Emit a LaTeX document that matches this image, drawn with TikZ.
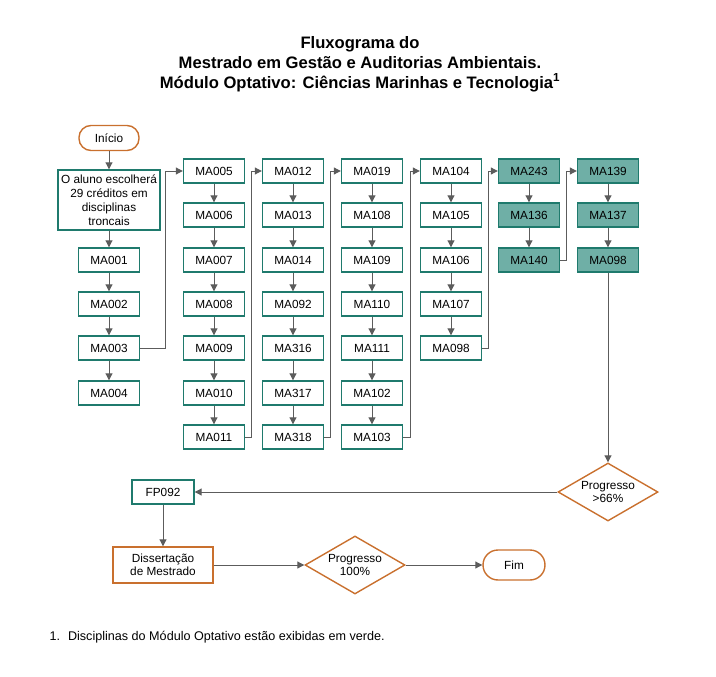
\documentclass[tikz,border=0pt]{standalone}
\usepackage{fontspec}
\setmainfont{Liberation Sans}
\usepackage{xcolor}
\usetikzlibrary{shapes.geometric,arrows.meta,positioning}

\definecolor{verde}{HTML}{1F7A6D}
\definecolor{verdeclaro}{HTML}{6FAFA6}
\definecolor{laranja}{HTML}{C9702E}
\definecolor{cinza}{HTML}{5C5C5C}

\begin{document}
\begin{tikzpicture}[
    x=1pt, y=-1pt,
    disc/.style={rectangle, draw=verde, line width=1.4pt, fill=white, minimum width=61pt, minimum height=24pt, inner sep=1pt, font=\fontsize{11.8}{13.5}\selectfont},
    optdisc/.style={disc, fill=verdeclaro},
    inicio/.style={rectangle, rounded corners=12pt, draw=laranja, line width=1.4pt, minimum width=60pt, minimum height=25pt, font=\fontsize{11.8}{13.5}\selectfont},
    decisao/.style={diamond, aspect=1.75, draw=laranja, line width=1.4pt, minimum width=100pt, minimum height=58pt, inner sep=0pt, align=center, font=\fontsize{11.8}{13.5}\selectfont},
    link/.style={draw=cinza, line width=1pt, -{Triangle[length=7pt,width=7pt]}}
]
    \useasboundingbox (0,0) rectangle (716,677);

    % Title
    \node[align=center, font=\bfseries\fontsize{16.6}{20}\selectfont] (titulo) at (360,64)
        {Fluxograma do\\Mestrado em Gestão e Auditorias Ambientais.\\Módulo Optativo: Ciências Marinhas e Tecnologia\textsuperscript{1}};

    % Column 1
    \node[inicio] (inicio) at (109,138) {Início};
    \node[disc, minimum width=102pt, minimum height=60pt, align=center, font=\fontsize{11.8}{14}\selectfont] (aluno) at (109,200)
        {O aluno escolherá\\29 créditos em\\disciplinas\\troncais};
    \node[disc] (ma001) at (109,260) {MA001};
    \node[disc] (ma002) at (109,304) {MA002};
    \node[disc] (ma003) at (109,348) {MA003};
    \node[disc] (ma004) at (109,393) {MA004};

    % Column 2
    \node[disc] (ma005) at (214,171) {MA005};
    \node[disc] (ma006) at (214,215) {MA006};
    \node[disc] (ma007) at (214,260) {MA007};
    \node[disc] (ma008) at (214,304) {MA008};
    \node[disc] (ma009) at (214,348) {MA009};
    \node[disc] (ma010) at (214,393) {MA010};
    \node[disc] (ma011) at (214,437) {MA011};

    % Column 3
    \node[disc] (ma012) at (293,171) {MA012};
    \node[disc] (ma013) at (293,215) {MA013};
    \node[disc] (ma014) at (293,260) {MA014};
    \node[disc] (ma092) at (293,304) {MA092};
    \node[disc] (ma316) at (293,348) {MA316};
    \node[disc] (ma317) at (293,393) {MA317};
    \node[disc] (ma318) at (293,437) {MA318};

    % Column 4
    \node[disc] (ma019) at (372,171) {MA019};
    \node[disc] (ma108) at (372,215) {MA108};
    \node[disc] (ma109) at (372,260) {MA109};
    \node[disc] (ma110) at (372,304) {MA110};
    \node[disc] (ma111) at (372,348) {MA111};
    \node[disc] (ma102) at (372,393) {MA102};
    \node[disc] (ma103) at (372,437) {MA103};

    % Column 5
    \node[disc] (ma104) at (451,171) {MA104};
    \node[disc] (ma105) at (451,215) {MA105};
    \node[disc] (ma106) at (451,260) {MA106};
    \node[disc] (ma107) at (451,304) {MA107};
    \node[disc] (ma098a) at (451,348) {MA098};

    % Optional module
    \node[optdisc] (ma243) at (529,171) {MA243};
    \node[optdisc] (ma136) at (529,215) {MA136};
    \node[optdisc] (ma140) at (529,260) {MA140};
    \node[optdisc] (ma139) at (608,171) {MA139};
    \node[optdisc] (ma137) at (608,215) {MA137};
    \node[optdisc] (ma098b) at (608,260) {MA098};

    % Final steps
    \node[decisao] (prog66) at (608,492) {Progresso\\>66\%};
    \node[disc, minimum width=62pt] (fp092) at (163,492) {FP092};
    \node[disc, draw=laranja, minimum width=100pt, minimum height=36pt, align=center] (dissert) at (163,565) {Dissertação\\de Mestrado};
    \node[decisao] (prog100) at (355,565) {Progresso\\100\%};
    \node[inicio, minimum width=62pt, minimum height=30pt, rounded corners=15pt] (fim) at (514,565) {Fim};

    % Arrows within columns
    \draw[link] (inicio) -- (aluno);
    \draw[link] (aluno) -- (ma001);
    \draw[link] (ma001) -- (ma002);
    \draw[link] (ma002) -- (ma003);
    \draw[link] (ma003) -- (ma004);
    \draw[link] (ma005) -- (ma006);
    \draw[link] (ma006) -- (ma007);
    \draw[link] (ma007) -- (ma008);
    \draw[link] (ma008) -- (ma009);
    \draw[link] (ma009) -- (ma010);
    \draw[link] (ma010) -- (ma011);
    \draw[link] (ma012) -- (ma013);
    \draw[link] (ma013) -- (ma014);
    \draw[link] (ma014) -- (ma092);
    \draw[link] (ma092) -- (ma316);
    \draw[link] (ma316) -- (ma317);
    \draw[link] (ma317) -- (ma318);
    \draw[link] (ma019) -- (ma108);
    \draw[link] (ma108) -- (ma109);
    \draw[link] (ma109) -- (ma110);
    \draw[link] (ma110) -- (ma111);
    \draw[link] (ma111) -- (ma102);
    \draw[link] (ma102) -- (ma103);
    \draw[link] (ma104) -- (ma105);
    \draw[link] (ma105) -- (ma106);
    \draw[link] (ma106) -- (ma107);
    \draw[link] (ma107) -- (ma098a);
    \draw[link] (ma243) -- (ma136);
    \draw[link] (ma136) -- (ma140);
    \draw[link] (ma139) -- (ma137);
    \draw[link] (ma137) -- (ma098b);

    % Arrows between columns
    \draw[link] (ma003.east) -- ++(25,0) |- (ma005.west);
    \draw[link] (ma011.east) -- ++(6,0) |- (ma012.west);
    \draw[link] (ma318.east) -- ++(6,0) |- (ma019.west);
    \draw[link] (ma103.east) -- ++(7,0) |- (ma104.west);
    \draw[link] (ma098a.east) -- ++(6,0) |- (ma243.west);
    \draw[link] (ma140.east) -- ++(6,0) |- (ma139.west);

    % Arrows to the end
    \draw[link] (ma098b.south) -- (prog66.north);
    \draw[link] (prog66.west) -- (fp092.east);
    \draw[link] (fp092) -- (dissert);
    \draw[link] (dissert) -- (prog100);
    \draw[link] (prog100) -- (fim);

    % Footnote
    \node[anchor=west, font=\fontsize{12.6}{15}\selectfont] (nota) at (46,637)
        {1.\hspace{8pt}Disciplinas do Módulo Optativo estão exibidas em verde.};
\end{tikzpicture}
\end{document}
